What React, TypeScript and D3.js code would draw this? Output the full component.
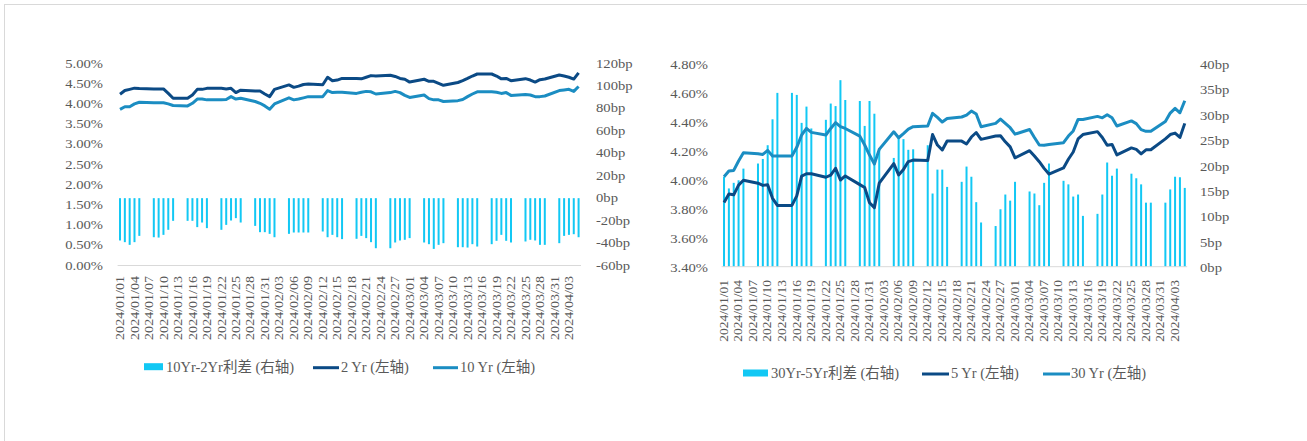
import React, { useEffect, useRef } from "react";
import * as d3 from "d3";

// trading days shown on both charts
const dates = [
  "2024/01/01", "2024/01/02", "2024/01/03", "2024/01/04", "2024/01/05",
  "2024/01/08", "2024/01/09", "2024/01/10", "2024/01/11", "2024/01/12",
  "2024/01/15", "2024/01/16", "2024/01/17", "2024/01/18", "2024/01/19",
  "2024/01/22", "2024/01/23", "2024/01/24", "2024/01/25", "2024/01/26",
  "2024/01/29", "2024/01/30", "2024/01/31", "2024/02/01", "2024/02/02",
  "2024/02/05", "2024/02/06", "2024/02/07", "2024/02/08", "2024/02/09",
  "2024/02/12", "2024/02/13", "2024/02/14", "2024/02/15", "2024/02/16",
  "2024/02/19", "2024/02/20", "2024/02/21", "2024/02/22", "2024/02/23",
  "2024/02/26", "2024/02/27", "2024/02/28", "2024/02/29", "2024/03/01",
  "2024/03/04", "2024/03/05", "2024/03/06", "2024/03/07", "2024/03/08",
  "2024/03/11", "2024/03/12", "2024/03/13", "2024/03/14", "2024/03/15",
  "2024/03/18", "2024/03/19", "2024/03/20", "2024/03/21", "2024/03/22",
  "2024/03/25", "2024/03/26", "2024/03/27", "2024/03/28", "2024/03/29",
  "2024/04/01", "2024/04/02", "2024/04/03", "2024/04/04", "2024/04/05",
];

// left chart (%)
const yield2y = [
  4.24, 4.33, 4.36, 4.39, 4.38, 4.37, 4.37, 4.37, 4.26, 4.14,
  4.14, 4.22, 4.36, 4.36, 4.385, 4.385, 4.37, 4.385, 4.28, 4.34,
  4.32, 4.32, 4.245, 4.18, 4.36, 4.47, 4.41, 4.44, 4.48, 4.49,
  4.475, 4.66, 4.575, 4.59, 4.63, 4.63, 4.62, 4.66, 4.70, 4.69,
  4.71, 4.68, 4.63, 4.61, 4.54, 4.61, 4.56, 4.56, 4.51, 4.46,
  4.53, 4.575, 4.63, 4.69, 4.74, 4.74, 4.69, 4.62, 4.63, 4.575,
  4.625, 4.59, 4.54, 4.6, 4.615, 4.715, 4.69, 4.66, 4.615, 4.77,
];
const yield10y = [
  3.866, 3.93, 3.93, 4.0, 4.04, 4.03, 4.03, 4.03, 4.0, 3.96,
  3.95, 4.015, 4.12, 4.12, 4.1, 4.1, 4.11, 4.18, 4.12, 4.14,
  4.06, 4.015, 3.95, 3.87, 4.0, 4.15, 4.1, 4.12, 4.15, 4.18,
  4.18, 4.33, 4.28, 4.29, 4.29, 4.26, 4.29, 4.31, 4.3, 4.245,
  4.28, 4.31, 4.28, 4.21, 4.16, 4.22, 4.13, 4.1, 4.1, 4.06,
  4.08, 4.11, 4.18, 4.245, 4.3, 4.3, 4.29, 4.26, 4.28, 4.21,
  4.23, 4.22, 4.18, 4.18, 4.195, 4.33, 4.345, 4.36, 4.31, 4.43,
];
// bp
const spread10y2y = [
  -37.7, -39.2, -41.6, -39.2, -33.6, -34.8, -35.1, -32.7, -28.2, -20.2,
  -20.2, -20.2, -25.8, -21.7, -26.7, -28.2, -23.8, -19.9, -17.8, -21.7,
  -24.7, -30.3, -30.3, -31.8, -34.8, -31.8, -30.6, -30.6, -30.6, -30.6,
  -29.7, -34.8, -32.7, -34.8, -36.5, -36.2, -33.6, -35.6, -39.2, -44.6,
  -44.6, -39.5, -37.7, -37.1, -35.6, -39.5, -41.0, -45.2, -41.6, -40.1,
  -43.7, -43.7, -44.0, -41.0, -43.1, -41.0, -38.0, -32.7, -38.0, -39.5,
  -38.6, -37.1, -37.7, -41.6, -41.6, -40.1, -33.6, -32.7, -32.1, -34.8,
];

// right chart (%)
const yield5y = [
  3.842, 3.9, 3.895, 3.962, 3.995, 3.975, 3.96, 3.965, 3.871, 3.822,
  3.822, 3.888, 4.024, 4.04, 4.04, 4.016, 4.031, 4.078, 3.997, 4.025,
  3.965, 3.945, 3.84, 3.807, 3.975, 4.11, 4.032, 4.07, 4.124, 4.134,
  4.132, 4.31, 4.238, 4.204, 4.266, 4.265, 4.245, 4.293, 4.324, 4.277,
  4.3, 4.302, 4.26, 4.225, 4.15, 4.199, 4.162, 4.123, 4.077, 4.038,
  4.08, 4.14, 4.19, 4.28, 4.31, 4.33, 4.29, 4.236, 4.242, 4.17,
  4.218, 4.208, 4.177, 4.205, 4.205, 4.28, 4.31, 4.32, 4.29, 4.387,
];
const yield30y = [
  4.02, 4.059, 4.063, 4.128, 4.185, 4.178, 4.173, 4.201, 4.162, 4.162,
  4.162, 4.222, 4.307, 4.352, 4.325, 4.307, 4.352, 4.392, 4.364, 4.352,
  4.299, 4.238, 4.169, 4.107, 4.208, 4.329, 4.288, 4.317, 4.348, 4.364,
  4.369, 4.456, 4.428, 4.396, 4.421, 4.431, 4.444, 4.472, 4.451, 4.364,
  4.387, 4.417, 4.387, 4.357, 4.313, 4.345, 4.29, 4.238, 4.236, 4.242,
  4.254, 4.3, 4.335, 4.414, 4.414, 4.435, 4.425, 4.446, 4.425, 4.369,
  4.404, 4.385, 4.344, 4.332, 4.332, 4.4, 4.458, 4.49, 4.46, 4.543,
];
// bp
const spread30y5y = [
  17.7, 15.4, 16.5, 17.0, 19.3, 20.3, 21.2, 23.9, 29.0, 34.2,
  34.2, 33.8, 28.3, 31.5, 27.2, 28.9, 32.1, 31.6, 36.7, 32.8,
  32.6, 27.7, 32.6, 30.1, 23.3, 21.4, 25.4, 25.1, 23.0, 23.1,
  23.9, 14.4, 19.1, 19.1, 15.7, 16.7, 19.7, 17.7, 12.7, 8.7,
  8.0, 11.3, 14.2, 13.0, 16.7, 14.8, 14.4, 12.1, 16.5, 20.3,
  16.9, 16.2, 13.8, 14.2, 10.0, 10.4, 14.2, 20.5, 17.9, 19.3,
  18.3, 17.4, 16.2, 12.6, 12.6, 12.6, 15.2, 17.7, 17.6, 15.5,
];

const leftPctTicks = [0, 0.5, 1, 1.5, 2, 2.5, 3, 3.5, 4, 4.5, 5];
const leftBpTicks = [-60, -40, -20, 0, 20, 40, 60, 80, 100, 120];
const rightPctTicks = [3.4, 3.6, 3.8, 4.0, 4.2, 4.4, 4.6, 4.8];
const rightBpTicks = [0, 5, 10, 15, 20, 25, 30, 35, 40];

const leftLegend = ["10Yr-2Yr利差 (右轴)", "2 Yr (左轴)", "10 Yr (左轴)"];
const rightLegend = ["30Yr-5Yr利差 (右轴)", "5 Yr (左轴)", "30 Yr (左轴)"];

const BAR = "#12c8f4";
const SHORT = "#0b4a85";
const LONG = "#1b8dc2";
const TEXT = "#595959";
const FONT = "'Liberation Serif', 'Times New Roman', 'Noto Sans CJK SC', serif";

interface Panel {
  x0: number;
  x1: number;
  top: number;
  bottom: number;
  pctDomain: [number, number];
  pctTicks: number[];
  bpDomain: [number, number];
  bpTicks: number[];
  bars: number[];
  shortRate: number[];
  longRate: number[];
  leftLabelX: number;
  rightLabelX: number;
  labelDy: number;
  xLabelTop: number;
  xLabelScale: number;
  legend: string[];
  legendY: number;
  swatches: [number, number][];
  legendTextX: number[];
}

const panels: Panel[] = [
  {
    x0: 117.6, x1: 581, top: 63.5, bottom: 265.5,
    pctDomain: [0, 5], pctTicks: leftPctTicks,
    bpDomain: [-60, 120], bpTicks: leftBpTicks,
    bars: spread10y2y, shortRate: yield2y, longRate: yield10y,
    leftLabelX: 103, rightLabelX: 596, labelDy: 0,
    xLabelTop: 276, xLabelScale: 1.17,
    legend: leftLegend, legendY: 366.7,
    swatches: [[144, 163], [313, 339], [433, 458]],
    legendTextX: [166, 341, 460],
  },
  {
    x0: 721.6, x1: 1187.2, top: 63.4, bottom: 266.7,
    pctDomain: [3.4, 4.8], pctTicks: rightPctTicks,
    bpDomain: [0, 40], bpTicks: rightBpTicks,
    bars: spread30y5y, shortRate: yield5y, longRate: yield30y,
    leftLabelX: 708, rightLabelX: 1200, labelDy: 1.5,
    xLabelTop: 280, xLabelScale: 1.13,
    legend: rightLegend, legendY: 373,
    swatches: [[743, 768], [922, 949], [1043, 1070]],
    legendTextX: [771, 951, 1071],
  },
];

const parse = d3.utcParse("%Y/%m/%d");
const fmtDate = d3.utcFormat("%Y/%m/%d");

function drawPanel(svg: d3.Selection<SVGSVGElement, unknown, null, undefined>, p: Panel) {
  const days = dates.map((d) => parse(d) as Date);
  const first = days[0];
  const last = days[days.length - 1];

  const x = d3
    .scaleUtc()
    .domain([d3.utcHour.offset(first, -12), d3.utcHour.offset(last, 12)])
    .range([p.x0, p.x1]);
  const yPct = d3.scaleLinear().domain(p.pctDomain).range([p.bottom, p.top]);
  const yBp = d3.scaleLinear().domain(p.bpDomain).range([p.bottom, p.top]);

  const g = svg.append("g");

  // spread bars (right axis)
  g.selectAll("rect.bar")
    .data(p.bars)
    .enter()
    .append("rect")
    .attr("class", "bar")
    .attr("x", (_, i) => x(days[i]) - 1)
    .attr("width", 2)
    .attr("y", (d) => Math.min(yBp(0), yBp(d)))
    .attr("height", (d) => Math.abs(yBp(d) - yBp(0)))
    .attr("fill", BAR);

  // category axis line
  g.append("line")
    .attr("x1", p.x0)
    .attr("x2", p.x1)
    .attr("y1", p.bottom)
    .attr("y2", p.bottom)
    .attr("stroke", "#d9d9d9")
    .attr("stroke-width", 1);

  const line = d3
    .line<number>()
    .x((_, i) => x(days[i]))
    .y((d) => yPct(d));

  g.append("path")
    .attr("d", line(p.shortRate) as string)
    .attr("fill", "none")
    .attr("stroke", SHORT)
    .attr("stroke-width", 3)
    .attr("stroke-linejoin", "round");
  g.append("path")
    .attr("d", line(p.longRate) as string)
    .attr("fill", "none")
    .attr("stroke", LONG)
    .attr("stroke-width", 3)
    .attr("stroke-linejoin", "round");

  // left axis labels
  g.selectAll("text.pct")
    .data(p.pctTicks)
    .enter()
    .append("text")
    .attr("class", "pct")
    .attr("transform", (d) => `translate(${p.leftLabelX},${yPct(d) + p.labelDy}) scale(1.22,1)`)
    .attr("text-anchor", "end")
    .attr("dominant-baseline", "central")
    .attr("font-size", 12)
    .attr("fill", TEXT)
    .text((d) => d3.format(".2f")(d) + "%");

  // right axis labels
  g.selectAll("text.bp")
    .data(p.bpTicks)
    .enter()
    .append("text")
    .attr("class", "bp")
    .attr("transform", (d) => `translate(${p.rightLabelX},${yBp(d) + p.labelDy}) scale(1.22,1)`)
    .attr("text-anchor", "start")
    .attr("dominant-baseline", "central")
    .attr("font-size", 12)
    .attr("fill", TEXT)
    .text((d) => d + "bp");

  // date labels every 3 days
  const ticks = d3
    .utcDay.range(first, d3.utcDay.offset(last, 1))
    .filter((_, i) => i % 3 === 0);
  g.selectAll("text.date")
    .data(ticks)
    .enter()
    .append("text")
    .attr("class", "date")
    .attr(
      "transform",
      (d) => `translate(${x(d)},${p.xLabelTop}) rotate(-90) scale(${p.xLabelScale},1)`
    )
    .attr("text-anchor", "end")
    .attr("dominant-baseline", "central")
    .attr("font-size", 12)
    .attr("fill", TEXT)
    .text((d) => fmtDate(d));

  // legend
  const [barSw, shortSw, longSw] = p.swatches;
  g.append("rect")
    .attr("x", barSw[0])
    .attr("y", p.legendY - 3.5)
    .attr("width", barSw[1] - barSw[0])
    .attr("height", 7)
    .attr("fill", BAR);
  [shortSw, longSw].forEach((s, i) => {
    g.append("line")
      .attr("x1", s[0])
      .attr("x2", s[1])
      .attr("y1", p.legendY + 1)
      .attr("y2", p.legendY + 1)
      .attr("stroke", i === 0 ? SHORT : LONG)
      .attr("stroke-width", 3);
  });
  g.selectAll("text.legend")
    .data(p.legend)
    .enter()
    .append("text")
    .attr("class", "legend")
    .attr("x", (_, i) => p.legendTextX[i])
    .attr("y", p.legendY)
    .attr("dominant-baseline", "central")
    .attr("font-size", 14.5)
    .attr("fill", TEXT)
    .text((d) => d);
}

const App = () => {
  const ref = useRef<SVGSVGElement>(null);

  useEffect(() => {
    if (!ref.current) return;
    const svg = d3.select(ref.current);
    svg.selectAll("*").remove();

    // outer frame
    svg
      .append("rect")
      .attr("x", 4.5)
      .attr("y", 4.5)
      .attr("width", 1320)
      .attr("height", 460)
      .attr("fill", "none")
      .attr("stroke", "#d9d9d9");

    panels.forEach((p) => drawPanel(svg, p));
  }, []);

  return (
    <svg
      ref={ref}
      width={1307}
      height={441}
      style={{ position: "absolute", left: 0, top: 0, background: "#fff", fontFamily: FONT }}
    />
  );
};

export default App;
